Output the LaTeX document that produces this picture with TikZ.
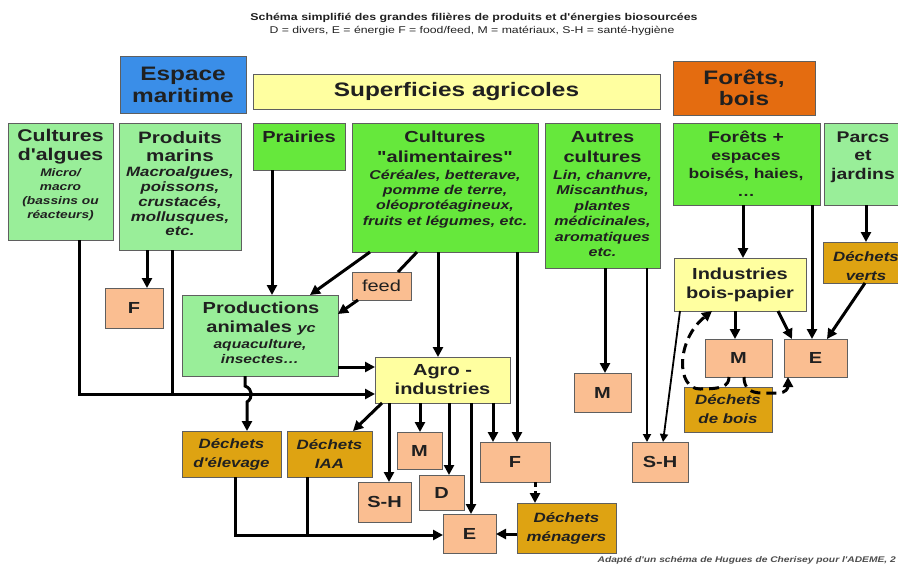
\documentclass[tikz,border=0pt]{standalone}
\usepackage{fontspec}
\setmainfont{Liberation Sans}[FakeStretch=1.25, Ligatures=TeXOff]
\usetikzlibrary{arrows.meta,calc}

\definecolor{bluebox}{RGB}{58,142,232}
\definecolor{orangebox}{RGB}{228,108,16}
\definecolor{yelbox}{RGB}{255,255,160}
\definecolor{palegreen}{RGB}{153,238,153}
\definecolor{limegreen}{RGB}{102,232,60}
\definecolor{salmon}{RGB}{250,190,145}
\definecolor{goldbox}{RGB}{222,163,18}
\definecolor{edge}{RGB}{95,95,95}
\definecolor{ink}{RGB}{32,32,32}

\newcommand\fs[2]{\fontsize{#1}{#2}\selectfont}

\tikzset{
  x=1pt, y=-1pt,
  box/.style={draw=edge, line width=0.9pt, inner sep=0pt, outer sep=0pt,
              align=center, text=ink},
  head/.style 2 args={inner sep=0pt, align=center, text=ink, font=\fs{#1}{#2}\bfseries},
  note/.style 2 args={inner sep=0pt, align=center, text=ink, font=\fs{#1}{#2}\bfseries\itshape},
  ln/.style={line width=3pt, draw=black},
  arr/.style={ln, -{Triangle[length=10pt,width=10pt]}},
  thinarr/.style={line width=1.8pt, draw=black, -{Triangle[length=8pt,width=8pt]}},
  dasharr/.style={arr, dash pattern=on 10pt off 6pt},
}

\begin{document}
\begin{tikzpicture}
\useasboundingbox (0,0) rectangle (898,566);
\begin{scope}
\clip (0,0) rectangle (898,566);

% ---------- title ----------
\node[inner sep=0pt, text=ink, font=\fs{9.9}{11}\bfseries] (title) at (474,18)
  {Schéma simplifié des grandes filières de produits et d'énergies biosourcées};
\node[inner sep=0pt, text=ink, font=\fs{9.8}{11}] (subtitle) at (472,31)
  {D = divers, E = énergie F = food/feed, M = matériaux, S-H = santé-hygiène};

% ---------- top categories ----------
\node[box, fill=bluebox, minimum width=126, minimum height=57, font=\fs{19.5}{22}\bfseries]
  (esp) at (183,84.5) {Espace\\maritime};
\node[box, fill=yelbox, minimum width=407, minimum height=35, font=\fs{19.5}{22}\bfseries]
  (sup) at (456.5,91.5) {Superficies agricoles};
\node[box, fill=orangebox, minimum width=142, minimum height=54, font=\fs{19.5}{21}\bfseries]
  (for) at (744,88) {Forêts,\\bois};

% ---------- resources ----------
\node[box, fill=palegreen, minimum width=105, minimum height=117] (alg) at (60.5,181.5) {};
\node[head={17}{18.5}] (alg-t) at (60.5,146.5) {Cultures\\d'algues};
\node[note={11}{14}] (alg-n) at (60.5,195) {Micro/\\macro\\(bassins ou\\réacteurs)};

\node[box, fill=palegreen, minimum width=122, minimum height=127] (mar) at (180,186.5) {};
\node[head={16.5}{18.5}] (mar-t) at (180,146.5) {Produits\\marins};
\node[note={13.5}{14.8}] (mar-n) at (180,201.5) {Macroalgues,\\poissons,\\crustacés,\\mollusques,\\etc.};

\node[box, fill=limegreen, minimum width=92, minimum height=47] (pra) at (299,146.5) {};
\node[head={16}{19}] (pra-t) at (299,137) {Prairies};

\node[box, fill=limegreen, minimum width=186, minimum height=129] (ali) at (445,187.5) {};
\node[head={16}{19.5}] (ali-t) at (445,147) {Cultures\\"alimentaires"};
\node[note={12.8}{15.2}] (ali-n) at (445,199)
  {Céréales, betterave,\\pomme de terre,\\oléoprotéagineux,\\fruits et légumes, etc.};

\node[box, fill=limegreen, minimum width=115, minimum height=145] (aut) at (602.5,195.5) {};
\node[head={16}{19.5}] (aut-t) at (602.5,147) {Autres\\cultures};
\node[note={12.8}{15.4}] (aut-n) at (602.5,213.5)
  {Lin, chanvre,\\Miscanthus,\\plantes\\médicinales,\\aromatiques\\etc.};

\node[box, fill=limegreen, minimum width=147, minimum height=82] (fpl) at (746.5,164) {};
\node[head={15.5}{18}] (fpl-t) at (746,137) {Forêts +};
\node[head={14}{18}] (fpl-n) at (746,174.5) {espaces\\boisés, haies,\\\ldots};

\node[box, fill=palegreen, minimum width=86, minimum height=82] (par) at (867,164) {};
\node[head={15.5}{18.5}] (par-t) at (863,157) {Parcs\\et\\jardins};

% ---------- transformations and products ----------
\node[box, fill=goldbox, minimum width=87, minimum height=41] (dv) at (866.5,262.5) {};
\node[note={13.5}{19}] (dv-t) at (866,266) {Déchets\\verts};

\node[box, fill=yelbox, minimum width=132, minimum height=53, font=\fs{16}{19}\bfseries]
  (ibp) at (740,284.5) {Industries\\bois-papier};
\node[box, fill=salmon, minimum width=67, minimum height=38, font=\fs{16}{19}\bfseries] (mf) at (738.5,358) {M};
\node[box, fill=salmon, minimum width=63, minimum height=38, font=\fs{16}{19}\bfseries] (ef) at (815.5,358) {E};
\node[box, fill=goldbox, minimum width=88, minimum height=45, font=\fs{13.5}{19}\bfseries\itshape]
  (db) at (728,409.5) {Déchets\\de bois};
\node[box, fill=salmon, minimum width=57, minimum height=39, font=\fs{16}{19}\bfseries] (ma) at (602.5,392.5) {M};
\node[box, fill=salmon, minimum width=56, minimum height=40, font=\fs{16}{19}\bfseries] (shr) at (660,462) {S-H};

\node[box, fill=salmon, minimum width=58, minimum height=40, font=\fs{16}{19}\bfseries] (fl) at (134,308) {F};

\node[box, fill=palegreen, minimum width=156, minimum height=81] (pa) at (260,335.5) {};
\node[head={16}{19}] (pa-t) at (261,319) {Productions\\animales {\fs{13}{13}\itshape yc}};
\node[note={12.5}{15}] (pa-n) at (260,352) {aquaculture,\\insectes\ldots};

\node[box, fill=salmon, minimum width=59, minimum height=28, font=\fs{16}{19}] (feed) at (381.5,286) {feed};

\node[box, fill=yelbox, minimum width=135, minimum height=46, font=\fs{16}{19}\bfseries]
  (agro) at (442.5,380) {Agro -\\industries};

\node[box, fill=goldbox, minimum width=99, minimum height=46, font=\fs{13.5}{19}\bfseries\itshape]
  (dele) at (231.5,454) {Déchets\\d'élevage};
\node[box, fill=goldbox, minimum width=85, minimum height=46, font=\fs{13.5}{19}\bfseries\itshape]
  (diaa) at (329.5,454) {Déchets\\IAA};
\node[box, fill=salmon, minimum width=53, minimum height=40, font=\fs{16}{19}\bfseries] (sh) at (384.5,502) {S-H};
\node[box, fill=salmon, minimum width=45, minimum height=37, font=\fs{16}{19}\bfseries] (mc) at (419.5,450.5) {M};
\node[box, fill=salmon, minimum width=45, minimum height=35, font=\fs{16}{19}\bfseries] (d) at (441.5,492.5) {D};
\node[box, fill=salmon, minimum width=53, minimum height=39, font=\fs{16}{19}\bfseries] (e) at (469.5,533.5) {E};
\node[box, fill=salmon, minimum width=70, minimum height=40, font=\fs{16}{19}\bfseries] (fc) at (515,462) {F};
\node[box, fill=goldbox, minimum width=99, minimum height=50, font=\fs{13.5}{19}\bfseries\itshape]
  (dm) at (566.5,528) {Déchets\\ménagers};

% ---------- connectors: marine and agricultural side ----------
\coordinate (busM) at (172,394);
\coordinate (busD) at (307,535);
\draw[arr] (mar.south -| 147,0) -- (fl.north -| 147,0);
\draw[arr] (alg.south -| 79,0) |- (agro.west |- 0,394);
\draw[ln]  (mar.south -| 172,0) -- (busM);
\draw[arr] (pra.south -| 272,0) -- (pa.north -| 272,0);
\draw[arr] (ali.south -| 370,0) -- (pa.north -| 310,0);
\draw[ln]  (ali.south -| 417,0) -- (feed.north -| 398,0);
\draw[arr] (feed.south -| 358,0) -- (pa.east |- 0,314);
\draw[arr] (ali.south -| 438,0) -- (agro.north -| 438,0);
\draw[arr] (ali.south -| 517,0) -- (fc.north -| 517,0);
\draw[arr] (pa.east |- 0,367) -- (agro.west |- 0,367);
\draw[arr] (pa.south -| 245,0) -- (245,386)
  .. controls (253,389) and (253,398) .. (247,402) -- (dele.north -| 247,0);
\draw[arr] (agro.south -| 382,0) -- (diaa.north -| 353,0);
\draw[arr] (agro.south -| 389,0) -- (sh.north -| 389,0);
\draw[arr] (agro.south -| 420,0) -- (mc.north -| 420,0);
\draw[arr] (agro.south -| 449,0) -- (d.north -| 449,0);
\draw[arr] (agro.south -| 471,0) -- (e.north -| 471,0);
\draw[arr] (agro.south -| 493,0) -- (fc.north -| 493,0);
\draw[arr, dash pattern=on 5pt off 4pt] (fc.south -| 535,0) -- (dm.north -| 535,0);
\draw[arr] (dm.west |- 0,534) -- (e.east |- 0,534);
\draw[arr] (dele.south -| 235,0) |- (e.west |- 0,535);
\draw[ln]  (diaa.south -| 307,0) -- (busD);

% ---------- connectors: other crops and forest side ----------
\draw[arr] (aut.south -| 605,0) -- (ma.north -| 605,0);
\draw[thinarr] (aut.south -| 647,0) -- (shr.north -| 647,0);
\draw[thinarr] (ibp.south -| 680,0) -- (shr.north -| 663,0);
\draw[arr] (fpl.south -| 743,0) -- (ibp.north -| 743,0);
\draw[arr] (fpl.south -| 812,0) -- (ef.north -| 812,0);
\draw[arr] (par.south -| 866,0) -- (dv.north -| 866,0);
\draw[arr] (dv.south -| 865,0) -- (ef.north -| 827,0);
\draw[arr] (ibp.south -| 735,0) -- (mf.north -| 735,0);
\draw[arr] (ibp.south -| 778,0) -- (ef.north -| 792,0);
\draw[dasharr] (mf.south -| 729,0) .. controls (729,386) and (722,389) .. (700,389)
  .. controls (676,389) and (676,340) .. (ibp.south -| 712,0);
\draw[dasharr] (mf.south -| 744,0) .. controls (744,388) and (750,393) .. (762,393)
  -- (778,393) .. controls (786,393) and (788,388) .. (ef.south -| 788,0);

% ---------- credit ----------
\node[anchor=east, inner sep=0pt, text=black!70, font=\fs{8.2}{10}\bfseries\itshape] (credit) at (896,560)
  {Adapté d'un schéma de Hugues de Cherisey pour l'ADEME, 2};
\end{scope}
\end{tikzpicture}
\end{document}
